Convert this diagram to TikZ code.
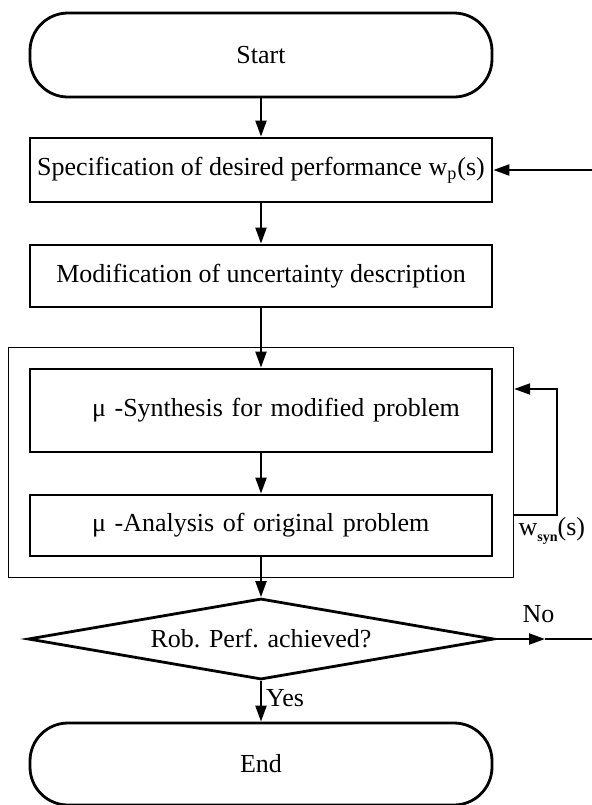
\documentclass[tikz,border=0pt]{standalone}
\usepackage{fontspec}
\setmainfont{Liberation Serif}
\usetikzlibrary{shapes.geometric,arrows.meta,fit}

\begin{document}
\begin{tikzpicture}[x=0.5pt,y=-0.5pt]
		\tikzstyle{every node}+=[font=\fontsize{13}{15}\selectfont]
		\tikzstyle{box}=[draw,line width=1.4pt,minimum width=231pt,inner sep=0pt]
		\tikzstyle{mubox}=[box,text width=169pt,inner xsep=31pt,align=left]
		\tikzstyle{term}=[box,rounded corners=19pt,minimum height=42pt]
		\tikzstyle{test}=[draw,line width=1.4pt,shape=diamond,aspect=5.7,inner sep=0pt,minimum width=233pt,minimum height=40.5pt]
		\tikzstyle{arr}=[line width=1.1pt,-{Triangle[length=8pt,width=5.5pt]}]
		\useasboundingbox (0,0) rectangle (592,805);
		\node [term] (start) at (261,55) {Start};
		\node [box,minimum height=32pt] (spec) at (261,170) {Specification of desired performance w\textsubscript{p}(s)};
		\node [box,minimum height=31pt] (modif) at (261,276) {Modification of uncertainty description};
		\node [mubox,minimum height=41.5pt] (syn) at (261,410.5) {\mbox{μ -Synthesis for modified problem}};
		\node [mubox,minimum height=30.5pt] (ana) at (261,525.5) {\mbox{μ -Analysis of original problem}};
		\node [draw,line width=0.8pt,fit=(syn)(ana),inner sep=10pt] (iter) {};
		\node [test] (rp) at (261,639) {Rob. Perf. achieved?};
		\node [term,minimum height=41pt] (end) at (261,764) {End};
		\coordinate (perf) at (spec.east -| 592,0);
		\coordinate (notip) at (545,639);
		\coordinate (noend) at (592,639);
		\coordinate (lo) at (iter.east |- 0,515);
		\coordinate (li) at (iter.east |- 0,389);
		\draw [arr] (start) -- (spec);
		\draw [arr] (spec) -- (modif);
		\draw [arr] (modif) -- (syn);
		\draw [arr] (syn) -- (ana);
		\draw [arr] (ana) -- (rp);
		\draw [arr] (rp) -- node [right,pos=0.42,inner xsep=2pt] {Yes} (end);
		\draw [arr] (rp.east) -- node [pos=0.87,above=4pt] {No} (notip);
		\draw [line width=1.1pt] (notip) -- (noend);
		\draw [arr] (perf) -- (spec.east);
		\draw [arr] (lo) -- ++(43,0) |- (li);
		\node [below right,inner sep=1pt,xshift=1pt] at (lo) {w\raisebox{-0.5ex}{\fontsize{7}{7}\selectfont\bfseries syn}(s)};
	\end{tikzpicture}
\end{document}
